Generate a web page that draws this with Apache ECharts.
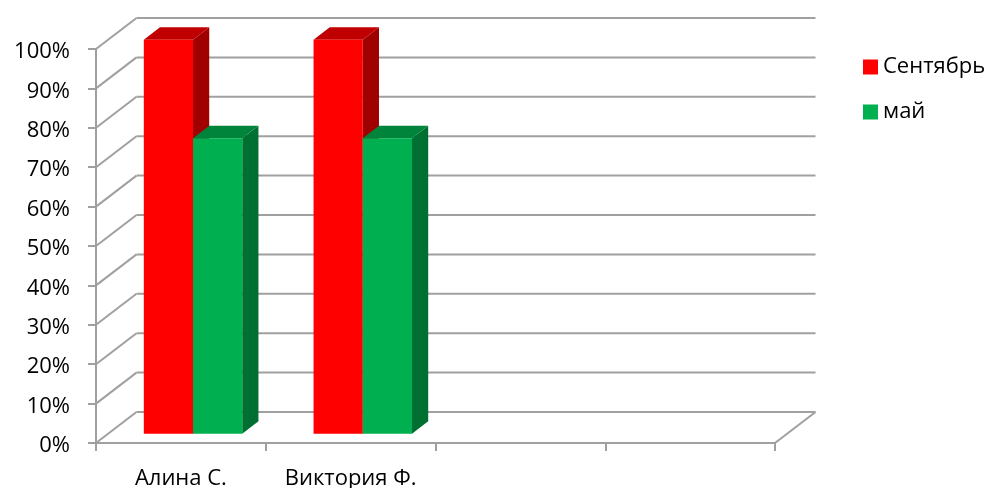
<!DOCTYPE html>
<html><head><meta charset="utf-8">
<script src="https://cdn.jsdelivr.net/npm/echarts@6/dist/echarts.min.js"></script>
<style>html,body{margin:0;padding:0;background:#fff}#c{width:991px;height:488px}</style>
</head><body><div id="c"></div>
<script>
const categories = ['Алина С.', 'Виктория Ф.', '', ''];
const seriesNames = ['Сентябрь', 'май'];
const september = [1.00, 1.00, null, null];
const may = [0.75, 0.75, null, null];
const yTicks = [0, 0.1, 0.2, 0.3, 0.4, 0.5, 0.6, 0.7, 0.8, 0.9, 1.0];

// style constants (3D look)
const DEPTH = [40.5, -31];        // wall depth offset in px
const BAR_FRONT = 0.3, BAR_BACK = 0.7;
const BAR_FRAC = 0.29;
const GRID_COLOR = '#a0a0a0';
const FONT = 'Open Sans';
const faces = [
  { front: '#ff0000', top: '#c00000', side: '#a00000' },
  { front: '#00b050', top: '#00843b', side: '#007032' }
];

function toData(arr) {
  const out = [];
  arr.forEach((v, i) => { if (v !== null && v !== undefined) out.push([i, v]); });
  return out;
}

function barRender(idx) {
  return function (params, api) {
    const cat = api.value(0), val = api.value(1);
    const top = api.coord([cat, val]);
    const base = api.coord([cat, 0]);
    const band = api.size([1, 0])[0];
    const w = band * BAR_FRAC;
    const fx = DEPTH[0] * BAR_FRONT, fy = DEPTH[1] * BAR_FRONT;
    const bx = DEPTH[0] * (BAR_BACK - BAR_FRONT), by = DEPTH[1] * (BAR_BACK - BAR_FRONT);
    const x0 = top[0] + fx + (idx === 0 ? -w : 0);
    const x1 = x0 + w;
    const yt = top[1] + fy, yb = base[1] + fy;
    const c = faces[idx];
    return {
      type: 'group',
      children: [
        { type: 'polygon', shape: { points: [[x1, yt], [x1 + bx, yt + by], [x1 + bx, yb + by], [x1, yb]] },
          style: { fill: c.side } },
        { type: 'polygon', shape: { points: [[x0, yt], [x1, yt], [x1 + bx, yt + by], [x0 + bx, yt + by]] },
          style: { fill: c.top } },
        { type: 'rect', shape: { x: x0, y: yt, width: w, height: yb - yt },
          style: { fill: c.front } }
      ]
    };
  };
}

function wallRender(params, api) {
  const cs = params.coordSys;
  const left = cs.x, right = cs.x + cs.width;
  const v = api.value(0);
  const y = api.coord([0, v])[1];
  const children = [
    { type: 'line', shape: { x1: left, y1: y, x2: left + DEPTH[0], y2: y + DEPTH[1] },
      style: { stroke: GRID_COLOR, lineWidth: 2 } },
    { type: 'line', shape: { x1: left + DEPTH[0], y1: y + DEPTH[1], x2: right + DEPTH[0], y2: y + DEPTH[1] },
      style: { stroke: GRID_COLOR, lineWidth: 2 } }
  ];
  if (v === 0) {
    children.push({ type: 'line', shape: { x1: right, y1: y, x2: right + DEPTH[0], y2: y + DEPTH[1] },
      style: { stroke: GRID_COLOR, lineWidth: 2 } });
  }
  return { type: 'group', children };
}

const chart = echarts.init(document.getElementById('c'), null, { renderer: 'canvas' });
chart.setOption({
  animation: false,
  backgroundColor: '#fff',
  textStyle: { fontFamily: FONT },
  legend: {
    orient: 'vertical', left: 858, top: 51,
    data: seriesNames,
    icon: 'rect', itemWidth: 15, itemHeight: 15, itemGap: 23,
    textStyle: { fontFamily: FONT, fontSize: 22, color: '#000', padding: [0, 0, 0, 0] }
  },
  grid: { left: 96, right: 216, top: 49, bottom: 45, containLabel: false, outerBoundsMode: 'none' },
  xAxis: {
    type: 'category', data: categories,
    axisLine: { lineStyle: { color: GRID_COLOR, width: 2 } },
    axisTick: { show: true, length: 8, interval: 0, lineStyle: { color: GRID_COLOR, width: 2 } },
    axisLabel: { interval: 0, margin: 25, fontSize: 22, color: '#000', fontFamily: FONT },
    splitLine: { show: false }
  },
  yAxis: {
    type: 'value', min: 0, max: 1, interval: 0.1,
    axisLine: { show: true, lineStyle: { color: GRID_COLOR, width: 2 } },
    axisTick: { show: true, length: 8, lineStyle: { color: GRID_COLOR, width: 2 } },
    axisLabel: { margin: 26, fontSize: 22, color: '#000', fontFamily: FONT,
      verticalAlign: 'top', lineHeight: 6,
      formatter: v => Math.round(v * 100) + '%' },
    splitLine: { show: false }
  },
  series: [
    { type: 'custom', name: 'walls', z: 1, silent: true, renderItem: wallRender,
      data: yTicks.map(v => [v]), encode: { y: 0 } },
    { type: 'custom', name: seriesNames[0], z: 2, renderItem: barRender(0),
      itemStyle: { color: faces[0].front }, data: toData(september), encode: { x: 0, y: 1 } },
    { type: 'custom', name: seriesNames[1], z: 2, renderItem: barRender(1),
      itemStyle: { color: faces[1].front }, data: toData(may), encode: { x: 0, y: 1 } }
  ]
});
</script></body></html>
